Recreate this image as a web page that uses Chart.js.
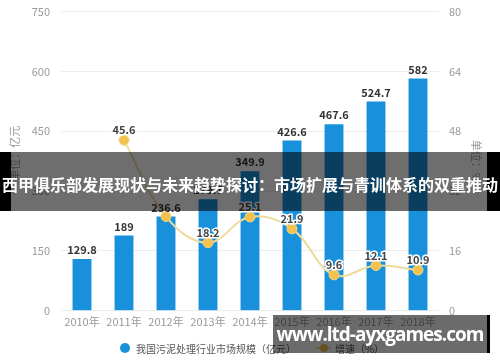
<!DOCTYPE html>
<html>
<head>
<meta charset="utf-8">
<script src="https://cdn.jsdelivr.net/npm/chart.js@4.4.1/dist/chart.umd.min.js"></script>
<style>
  html, body { margin: 0; padding: 0; background: #fff; }
  body { width: 500px; height: 362px; position: relative; overflow: hidden; font-family: "Noto Sans CJK SC", sans-serif; }
  #wrap { position: absolute; left: 0; top: -6px; width: 500px; height: 368px; }
  #legend { position: absolute; top: 339px; left: 0; width: 500px; text-align: center; font-size: 10px; color: #555; white-space: nowrap; padding-left: 4px; box-sizing: border-box; }
  #legend span { display: inline-block; vertical-align: middle; }
  .dot { width: 10px; height: 10px; border-radius: 50%; background: #1890dc; margin-right: 6px; }
  .lineKey { position: relative; width: 15px; height: 10px; margin: 0 4px 0 20px; }
  .lineKey:before { content: ""; position: absolute; left: 0; right: 0; top: 4px; height: 2px; background: #eedb9c; }
  .lineKey:after { content: ""; position: absolute; left: 4px; top: 1px; width: 8px; height: 8px; border-radius: 50%; background: #f2c14e; }
  #banner { position: absolute; left: 0; top: 152px; width: 500px; height: 59px; background: rgba(0,0,0,0.57); }
  #banner .edgeL { position: absolute; left: 0; top: 0; width: 11px; height: 59px; background: #000; }
  #banner .edgeR { position: absolute; right: 0; top: 0; width: 13px; height: 59px; background: #000; }
  #banner .txt { position: absolute; left: 0; top: 22px; width: 500px; text-align: center; color: #fff; font-weight: bold; font-size: 16px; line-height: 20px; white-space: nowrap; }
  #mark { position: absolute; left: 273px; top: 315px; width: 217px; height: 38px; background: rgba(0,0,0,0.58); }
  #mark .edgeR { position: absolute; right: 0; top: 0; width: 3px; height: 38px; background: #000; }
  #mark .txt { position: absolute; left: 0; top: 7px; width: 214px; text-align: center; color: #fff; font-weight: bold; font-size: 19px; letter-spacing: -1px; line-height: 24px; font-family: "Open Sans", sans-serif; white-space: nowrap; }
</style>
</head>
<body>
<div id="wrap"><canvas id="chartCanvas" width="500" height="368"></canvas></div>
<div id="legend"></div>
<div id="banner"><div class="edgeL"></div><div class="edgeR"></div><div class="txt" id="bannerText"></div></div>
<div id="mark"><div class="edgeR"></div><div class="txt" id="markText"></div></div>
<script>
// データ
const years = ['2010年', '2011年', '2012年', '2013年', '2014年', '2015年', '2016年', '2017年', '2018年'];
const marketSize = [129.8, 189, 236.6, 279.7, 349.9, 426.6, 467.6, 524.7, 582];
const growthRate = [null, 45.6, 25.2, 18.2, 25.1, 21.9, 9.6, 12.1, 10.9];
const leftTicks = [0, 150, 300, 450, 600, 750];
const rightTicks = [0, 16, 32, 48, 64, 80];

const barLabel = '我国污泥处理行业市场规模（亿元）';
const lineLabel = '增速（%）';
const leftTitle = '单位：亿元';
const rightTitle = '单位：%';

document.getElementById('bannerText').textContent = '西甲俱乐部发展现状与未来趋势探讨：市场扩展与青训体系的双重推动';
document.getElementById('markText').textContent = 'www.ltd-ayxgames.com';

// 凡例
document.getElementById('legend').innerHTML =
    `<span class="dot"></span><span>${barLabel}</span><span class="lineKey"></span><span>${lineLabel}</span>`;

const fontFamily = '"Noto Sans CJK SC", sans-serif';

// 値ラベルと軸タイトル
const labelPlugin = {
    id: 'labelPlugin',
    afterDatasetsDraw(chart) {
        const ctx = chart.ctx;
        ctx.save();
        ctx.textAlign = 'center';
        ctx.textBaseline = 'middle';
        ctx.font = 'bold 11px ' + fontFamily;

        const barEls = chart.getDatasetMeta(0).data;
        barEls.forEach((el, i) => {
            ctx.fillStyle = '#333';
            ctx.fillText(String(marketSize[i]), el.x, el.y - 9);
        });

        chart.getDatasetMeta(1).data.forEach((el, i) => {
            if (growthRate[i] === null) return;
            // 棒ラベルと重なる場合は表示しない
            if (Math.abs((el.y - 10) - (barEls[i].y - 9)) < 12) return;
            ctx.lineWidth = 3;
            ctx.strokeStyle = '#fff';
            ctx.strokeText(String(growthRate[i]), el.x, el.y - 10);
            ctx.fillStyle = '#444';
            ctx.fillText(String(growthRate[i]), el.x, el.y - 10);
        });

        // 軸タイトル
        const midY = (chart.chartArea.top + chart.chartArea.bottom) / 2;
        ctx.font = '11px ' + fontFamily;
        ctx.fillStyle = '#999';
        ctx.save();
        ctx.translate(15, midY - 8);
        ctx.rotate(-Math.PI / 2);
        ctx.fillText(leftTitle, 0, 0);
        ctx.restore();
        ctx.save();
        ctx.translate(476, midY);
        ctx.rotate(Math.PI / 2);
        ctx.fillText(rightTitle, 0, 0);
        ctx.restore();
        ctx.restore();
    }
};

const ctx = document.getElementById('chartCanvas').getContext('2d');
const chart = new Chart(ctx, {
    type: 'bar',
    data: {
        labels: years,
        datasets: [{
            type: 'bar',
            label: barLabel,
            data: marketSize,
            backgroundColor: '#1890dc',
            barPercentage: 0.5,
            categoryPercentage: 0.9,
            yAxisID: 'y',
            order: 2
        }, {
            type: 'line',
            label: lineLabel,
            data: growthRate,
            borderColor: '#eedb9c',
            borderWidth: 2,
            backgroundColor: '#f2c14e',
            pointBackgroundColor: '#f2c14e',
            pointBorderColor: '#f5d680',
            pointBorderWidth: 1,
            pointRadius: 5,
            tension: 0.4,
            spanGaps: true,
            yAxisID: 'y1',
            order: 1
        }]
    },
    options: {
        responsive: false,
        animation: false,
        layout: { padding: { top: 0, bottom: 30 } },
        plugins: {
            legend: { display: false },
            tooltip: { enabled: false }
        },
        scales: {
            x: {
                grid: { display: false, drawTicks: false },
                border: { display: false },
                ticks: { color: '#999', font: { size: 11, family: fontFamily }, padding: 4 }
            },
            y: {
                position: 'left',
                min: 0,
                max: 750,
                afterBuildTicks: (scale) => { scale.ticks = leftTicks.map(v => ({ value: v })); },
                afterFit: (scale) => { scale.width = 61; },
                grid: { color: '#eeeeee', drawTicks: false },
                border: { display: false },
                ticks: { color: '#999', font: { size: 11, family: fontFamily }, padding: 11 }
            },
            y1: {
                position: 'right',
                min: 0,
                max: 80,
                afterBuildTicks: (scale) => { scale.ticks = rightTicks.map(v => ({ value: v })); },
                afterFit: (scale) => { scale.width = 61; },
                grid: { display: false, drawTicks: false },
                border: { display: false },
                ticks: { color: '#999', font: { size: 11, family: fontFamily }, padding: 10 }
            }
        }
    },
    plugins: [labelPlugin]
});
</script>
</body>
</html>
